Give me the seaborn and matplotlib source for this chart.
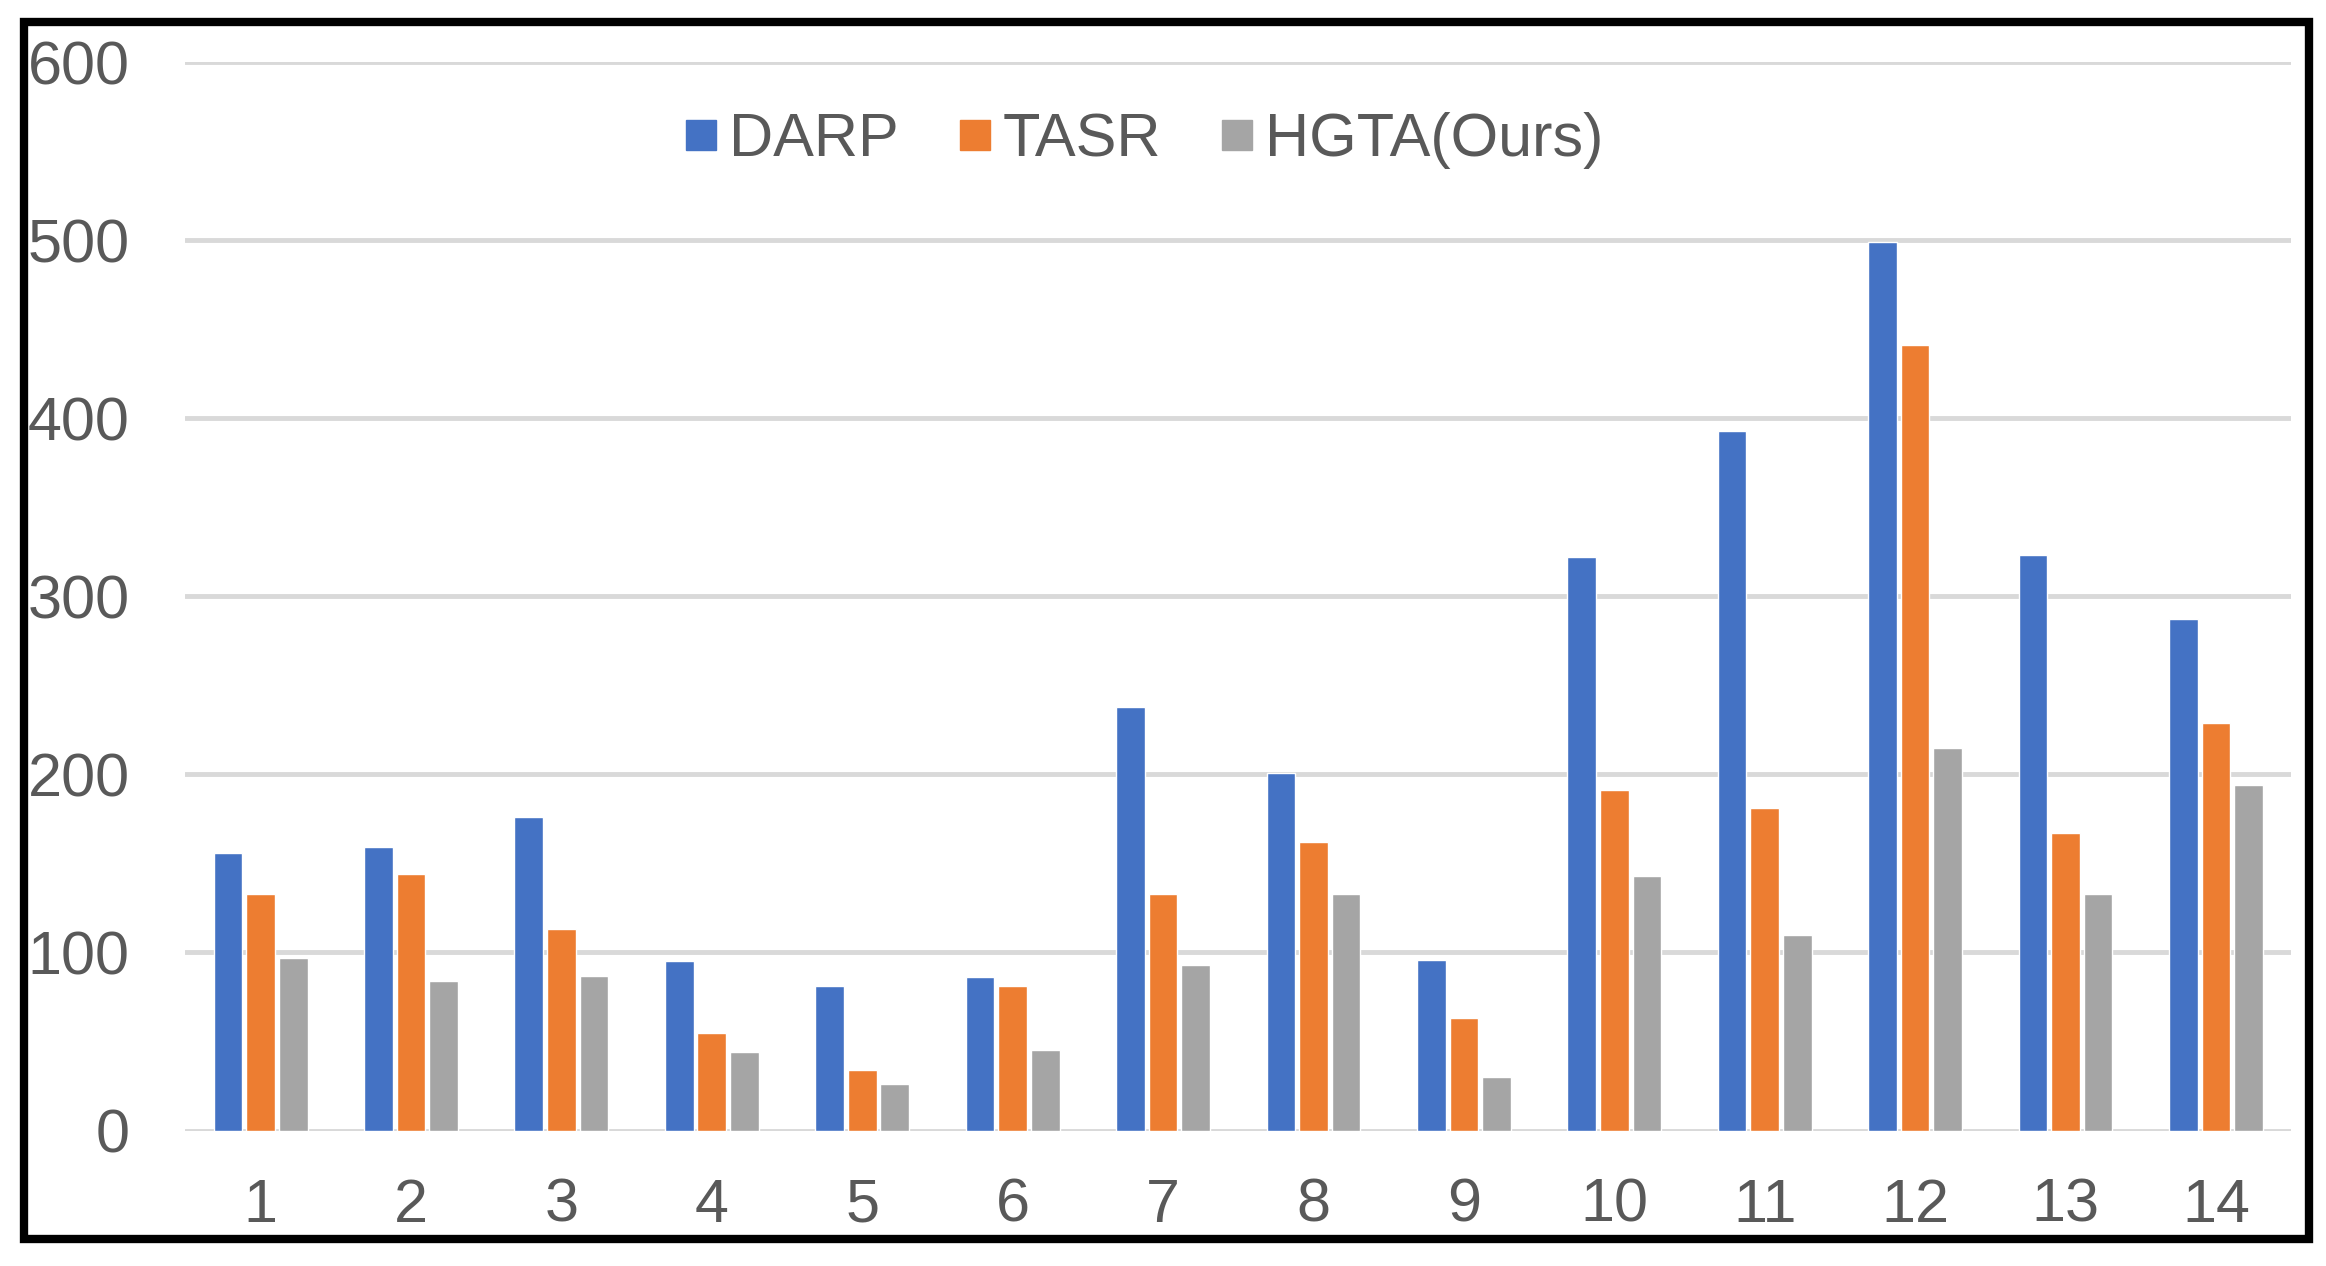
import matplotlib
matplotlib.use("Agg")
import matplotlib.pyplot as plt
from matplotlib.lines import Line2D
from matplotlib.patches import Rectangle
import seaborn as sns
import pandas as pd

categories = [str(i) for i in range(1, 15)]
series_names = ["DARP", "TASR", "HGTA(Ours)"]
darp = [156, 159, 176, 95, 81, 86, 238, 201, 96, 322, 393, 499, 323, 287]
tasr = [133, 144, 113, 55, 34, 81, 133, 162, 63, 191, 181, 441, 167, 229]
hgta = [97, 84, 87, 44, 26, 45, 93, 133, 30, 143, 110, 215, 133, 194]
yticks = [0, 100, 200, 300, 400, 500, 600]
colors = ["#4472C4", "#ED7D31", "#A5A5A5"]

rows = []
for name, vals in zip(series_names, [darp, tasr, hgta]):
    for c, v in zip(categories, vals):
        rows.append({"cat": c, "series": name, "value": v})
df = pd.DataFrame(rows)

sns.set_theme(style="white")
plt.rcParams["font.family"] = ["Liberation Sans", "DejaVu Sans"]

fig = plt.figure(figsize=(23.26, 12.66), dpi=100)
ax = fig.add_axes([0.0797, 0.107, 0.9053, 0.844])

sns.barplot(data=df, x="cat", y="value", hue="series", order=categories,
            hue_order=series_names, palette=colors, width=0.65, gap=0.12,
            saturation=1, errorbar=None, ax=ax, legend=False, zorder=3)

ax.set_ylim(0, 600)
ax.set_xlim(-0.5, 13.5)
ax.set_yticks(yticks)
ax.set_yticklabels([str(t) for t in yticks])
ax.yaxis.grid(True, color="#D9D9D9", linewidth=3.5, zorder=0)
ax.xaxis.grid(False)
for s in ax.spines.values():
    s.set_visible(False)
ax.set_xlabel("")
ax.set_ylabel("")
ax.tick_params(axis="y", length=0, pad=40, labelsize=44, labelcolor="#595959")
ax.tick_params(axis="x", length=0, pad=34, labelsize=44, labelcolor="#595959")
ax.set_axisbelow(True)

handles = [Line2D([0], [0], marker="s", linestyle="none", markersize=21,
                  markerfacecolor=c, markeredgecolor=c) for c in colors]
ax.legend(handles, series_names, loc="center", bbox_to_anchor=(0.492, 0.889),
          bbox_transform=fig.transFigure, ncol=3, frameon=False, fontsize=44,
          handlelength=0.5, handletextpad=0.2, columnspacing=1.0,
          labelcolor="#595959")

fig.patches.append(Rectangle((0.0105, 0.021), 0.982, 0.962, transform=fig.transFigure,
                             fill=False, edgecolor="black", linewidth=6, zorder=10))

fig.savefig("out.png", dpi=100, facecolor="white")
